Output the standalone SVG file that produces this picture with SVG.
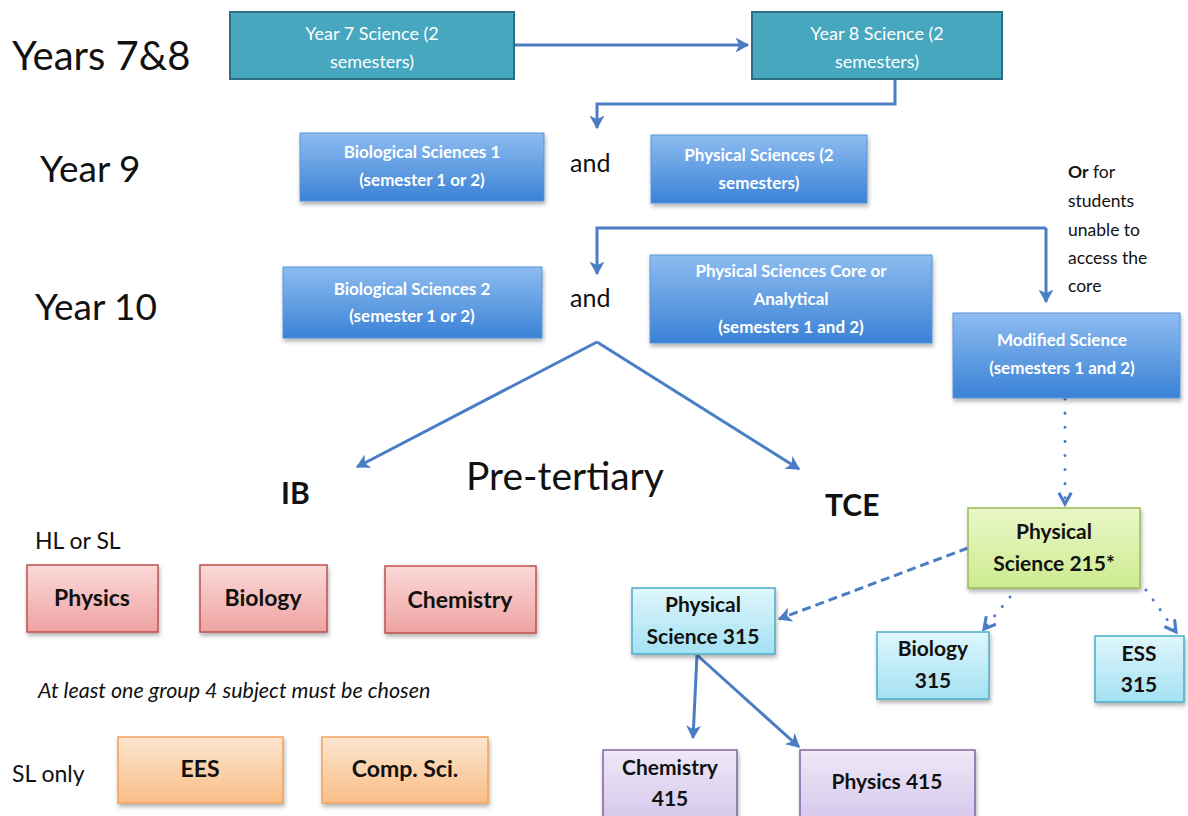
<svg xmlns="http://www.w3.org/2000/svg" width="1188" height="816" viewBox="0 0 1188 816">
<defs>
  <linearGradient id="gBlue" x1="0" y1="0" x2="0" y2="1">
    <stop offset="0" stop-color="#8dbcf0"/>
    <stop offset="1" stop-color="#3b82d6"/>
  </linearGradient>
  <linearGradient id="gPink" x1="0" y1="0" x2="0" y2="1">
    <stop offset="0" stop-color="#fbd9d8"/>
    <stop offset="1" stop-color="#eda3a2"/>
  </linearGradient>
  <linearGradient id="gOrange" x1="0" y1="0" x2="0" y2="1">
    <stop offset="0" stop-color="#fde6cf"/>
    <stop offset="1" stop-color="#f9bd86"/>
  </linearGradient>
  <linearGradient id="gGreen" x1="0" y1="0" x2="0" y2="1">
    <stop offset="0" stop-color="#eaf7c9"/>
    <stop offset="1" stop-color="#cdeb8f"/>
  </linearGradient>
  <linearGradient id="gCyan" x1="0" y1="0" x2="0" y2="1">
    <stop offset="0" stop-color="#dff6fc"/>
    <stop offset="1" stop-color="#a4e1f3"/>
  </linearGradient>
  <linearGradient id="gPurple" x1="0" y1="0" x2="0" y2="1">
    <stop offset="0" stop-color="#eee8f7"/>
    <stop offset="1" stop-color="#d6c9ec"/>
  </linearGradient>
  <filter id="shadow" x="-10%" y="-10%" width="130%" height="140%">
    <feDropShadow dx="1" dy="3" stdDeviation="2" flood-color="#000" flood-opacity="0.3"/>
  </filter>
  <marker id="arr" viewBox="0 0 12 12" refX="10" refY="6" markerWidth="5" markerHeight="5" orient="auto" markerUnits="strokeWidth">
    <path d="M0,0 L11,6 L0,12 L3,6 Z" fill="#4a7dc4"/>
  </marker>
  <marker id="arrOpen" viewBox="0 0 12 12" refX="10" refY="6" markerWidth="5" markerHeight="5" orient="auto" markerUnits="strokeWidth">
    <path d="M1,1 L10,6 L1,11" fill="none" stroke="#4a7dc4" stroke-width="2.5"/>
  </marker>
</defs>
<style>
  .lbl { font-family: Lato, "Open Sans", "Liberation Sans", sans-serif; fill: #111; }
  .teal { fill: #46a7bf; stroke: #2d6f82; stroke-width: 2; }
  .blue { fill: url(#gBlue); stroke: #5b93d8; stroke-width: 1; filter: url(#shadow); }
  .pink { fill: url(#gPink); stroke: #c0504d; stroke-width: 1.5; filter: url(#shadow); }
  .orange { fill: url(#gOrange); stroke: #f0a35c; stroke-width: 1.5; filter: url(#shadow); }
  .green { fill: url(#gGreen); stroke: #9bbb59; stroke-width: 1.5; filter: url(#shadow); }
  .cyan { fill: url(#gCyan); stroke: #4bacc6; stroke-width: 1.5; filter: url(#shadow); }
  .purple { fill: url(#gPurple); stroke: #8064a2; stroke-width: 1.5; filter: url(#shadow); }
  .tw { font-family: Lato, "Open Sans", "Liberation Sans", sans-serif; fill: #fff; font-size: 18px; text-anchor: middle; }
  .twb { font-family: Lato, "Open Sans", "Liberation Sans", sans-serif; fill: #fff; font-size: 17px; font-weight: bold; text-anchor: middle; }
  .tb { font-family: Lato, "Open Sans", "Liberation Sans", sans-serif; fill: #111; font-size: 23px; font-weight: bold; text-anchor: middle; }
  .tc { font-family: Lato, "Open Sans", "Liberation Sans", sans-serif; fill: #111; font-size: 21px; font-weight: bold; text-anchor: middle; }
  .con { fill: none; stroke: #4a7dc4; stroke-width: 3; }
</style>
<rect width="1188" height="816" fill="#ffffff"/>

<!-- labels -->
<g id="labels">
  <text class="lbl" x="12" y="70" font-size="40">Years 7&amp;8</text>
  <text class="lbl" x="40" y="182" font-size="37">Year 9</text>
  <text class="lbl" x="35" y="320" font-size="37">Year 10</text>
  <text class="lbl" x="570" y="172" font-size="25">and</text>
  <text class="lbl" x="570" y="307" font-size="25">and</text>
  <text class="lbl" x="466" y="490" font-size="39">Pre-tertiary</text>
  <text class="lbl" x="281" y="504" font-size="30" font-weight="bold">IB</text>
  <text class="lbl" x="825" y="516" font-size="30" font-weight="bold">TCE</text>
  <text class="lbl" x="35" y="549" font-size="23">HL or SL</text>
  <text class="lbl" x="38" y="698" font-size="21.5" font-style="italic">At least one group 4 subject must be chosen</text>
  <text class="lbl" x="12" y="782" font-size="23">SL only</text>
  <text class="lbl" font-size="17.5">
    <tspan x="1068" y="178"><tspan font-weight="bold">Or</tspan> for</tspan>
    <tspan x="1068" y="207">students</tspan>
    <tspan x="1068" y="236">unable to</tspan>
    <tspan x="1068" y="264">access the</tspan>
    <tspan x="1068" y="292">core</tspan>
  </text>
</g>

<!-- connectors -->
<g id="connectors">
  <path class="con" d="M514,45 L748,45" marker-end="url(#arr)"/>
  <path class="con" d="M895,80 L895,104 L597,104 L597,128" marker-end="url(#arr)"/>
  <path class="con" d="M1046,228 L597,228 L597,274" marker-end="url(#arr)"/>
  <path class="con" d="M1046,228 L1046,302" marker-end="url(#arr)"/>
  <path class="con" d="M597,342 L357,467" marker-end="url(#arr)"/>
  <path class="con" d="M597,342 L799,469" marker-end="url(#arr)"/>
  <path class="con" d="M1065,399 L1065,504" stroke-dasharray="0.1 14" stroke-linecap="round" stroke-width="4" marker-end="url(#arrOpen)"/>
  <path class="con" d="M968,548 L779,619" stroke-dasharray="9 5" marker-end="url(#arr)"/>
  <path class="con" d="M1010,597 L984,629" stroke-dasharray="0.1 12" stroke-linecap="round" stroke-width="4" marker-end="url(#arrOpen)"/>
  <path class="con" d="M1146,590 L1176,632" stroke-dasharray="0.1 12" stroke-linecap="round" stroke-width="4" marker-end="url(#arrOpen)"/>
  <path class="con" d="M697,655 L693,738" marker-end="url(#arr)"/>
  <path class="con" d="M697,655 L799,747" marker-end="url(#arr)"/>
</g>

<!-- nodes -->
<g id="n-year7">
  <rect class="teal" x="230" y="12" width="284" height="67"/>
  <text class="tw" x="372" y="40">Year 7 Science (2</text>
  <text class="tw" x="372" y="68">semesters)</text>
</g>
<g id="n-year8">
  <rect class="teal" x="752" y="12" width="250" height="67"/>
  <text class="tw" x="877" y="40">Year 8 Science (2</text>
  <text class="tw" x="877" y="68">semesters)</text>
</g>
<g id="n-bio1">
  <rect class="blue" x="300" y="133" width="244" height="68"/>
  <text class="twb" x="422" y="158">Biological Sciences 1</text>
  <text class="twb" x="422" y="186">(semester 1 or 2)</text>
</g>
<g id="n-phys9">
  <rect class="blue" x="651" y="135" width="216" height="68"/>
  <text class="twb" x="759" y="161">Physical Sciences (2</text>
  <text class="twb" x="759" y="189">semesters)</text>
</g>
<g id="n-bio2">
  <rect class="blue" x="283" y="267" width="259" height="71"/>
  <text class="twb" x="412" y="295">Biological Sciences 2</text>
  <text class="twb" x="412" y="322">(semester 1 or 2)</text>
</g>
<g id="n-phys10">
  <rect class="blue" x="650" y="255" width="282" height="88"/>
  <text class="twb" x="791" y="277">Physical Sciences  Core or</text>
  <text class="twb" x="791" y="305">Analytical</text>
  <text class="twb" x="791" y="333">(semesters 1 and 2)</text>
</g>
<g id="n-modified">
  <rect class="blue" x="953" y="313" width="227" height="85"/>
  <text class="twb" x="1062" y="346">Modified Science</text>
  <text class="twb" x="1062" y="374">(semesters 1 and 2)</text>
</g>
<g id="n-ib-physics">
  <rect class="pink" x="27" y="565" width="131" height="67"/>
  <text class="tb" x="92" y="606">Physics</text>
</g>
<g id="n-ib-biology">
  <rect class="pink" x="200" y="565" width="127" height="67"/>
  <text class="tb" x="263" y="606">Biology</text>
</g>
<g id="n-ib-chemistry">
  <rect class="pink" x="385" y="566" width="151" height="67"/>
  <text class="tb" x="460" y="608">Chemistry</text>
</g>
<g id="n-ib-ees">
  <rect class="orange" x="118" y="737" width="165" height="66"/>
  <text class="tb" x="200" y="777" font-size="21">EES</text>
</g>
<g id="n-ib-compsci">
  <rect class="orange" x="322" y="737" width="166" height="66"/>
  <text class="tb" x="405" y="777" font-size="21">Comp. Sci.</text>
</g>
<g id="n-phys215">
  <rect class="green" x="968" y="508" width="172" height="80"/>
  <text class="tc" x="1054" y="539">Physical</text>
  <text class="tc" x="1054" y="571">Science 215*</text>
</g>
<g id="n-phys315">
  <rect class="cyan" x="632" y="588" width="143" height="66"/>
  <text class="tc" x="703" y="612">Physical</text>
  <text class="tc" x="703" y="644">Science 315</text>
</g>
<g id="n-bio315">
  <rect class="cyan" x="877" y="632" width="112" height="67"/>
  <text class="tc" x="933" y="656">Biology</text>
  <text class="tc" x="933" y="688">315</text>
</g>
<g id="n-ess315">
  <rect class="cyan" x="1095" y="636" width="89" height="66"/>
  <text class="tc" x="1139" y="661">ESS</text>
  <text class="tc" x="1139" y="692">315</text>
</g>
<g id="n-chem415">
  <rect class="purple" x="603" y="750" width="134" height="68"/>
  <text class="tc" x="670" y="775">Chemistry</text>
  <text class="tc" x="670" y="806">415</text>
</g>
<g id="n-phys415">
  <rect class="purple" x="800" y="750" width="175" height="68"/>
  <text class="tc" x="887" y="789">Physics 415</text>
</g>
</svg>
